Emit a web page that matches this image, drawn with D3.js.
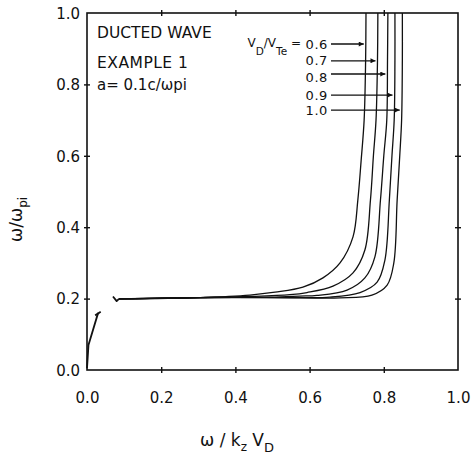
<!DOCTYPE html>
<html>
<head>
<meta charset="utf-8">
<script src="https://cdn.jsdelivr.net/npm/d3@7"></script>
<style>
  html, body { margin: 0; padding: 0; background: #fff; }
  svg { display: block; }
  text { font-family: "DejaVu Sans", "Liberation Sans", sans-serif; fill: #111; }
</style>
</head>
<body>
<svg id="chart" width="473" height="455"></svg>
<script>
// Dispersion curves ω/ωpi versus ω/(kz VD) for several drift ratios VD/VTe
const xTicks = [0.0, 0.2, 0.4, 0.6, 0.8, 1.0];
const yTicks = [0.0, 0.2, 0.4, 0.6, 0.8, 1.0];

const driftRatios = [0.6, 0.7, 0.8, 0.9, 1.0];
const driftLabels = ["0.6", "0.7", "0.8", "0.9", "1.0"];

// [ω/kzVD, ω/ωpi] samples along each branch
const curve06 = [[0.086,0.199],[0.305,0.203],[0.439,0.210],[0.507,0.218],[0.582,0.232],[0.636,0.258],
                 [0.682,0.300],[0.717,0.373],[0.730,0.476],[0.739,0.588],[0.747,0.700],[0.751,0.868],[0.752,1.000]];
const curve07 = [[0.086,0.199],[0.305,0.203],[0.439,0.206],[0.547,0.211],[0.593,0.217],[0.663,0.235],
                 [0.717,0.272],[0.749,0.336],[0.764,0.476],[0.772,0.600],[0.779,0.700],[0.783,0.868],[0.784,1.000]];
const curve08 = [[0.086,0.199],[0.305,0.203],[0.493,0.204],[0.574,0.207],[0.620,0.209],[0.701,0.224],
                 [0.749,0.258],[0.776,0.317],[0.791,0.476],[0.800,0.600],[0.808,0.700],[0.810,0.868],[0.811,1.000]];
const curve09 = [[0.086,0.199],[0.305,0.203],[0.547,0.203],[0.655,0.204],[0.736,0.217],[0.782,0.246],
                 [0.803,0.308],[0.815,0.476],[0.822,0.600],[0.828,0.700],[0.830,0.868],[0.830,1.000]];
const curve10 = [[0.086,0.199],[0.305,0.203],[0.574,0.202],[0.682,0.202],[0.768,0.210],[0.809,0.238],
                 [0.827,0.300],[0.836,0.476],[0.843,0.600],[0.848,0.700],[0.850,0.868],[0.850,1.000]];
const curves = [curve06, curve07, curve08, curve09, curve10];

// small hook where the branches begin, and the low-frequency branch near the origin
const startHook = [[0.070,0.206],[0.080,0.193],[0.086,0.199]];
const lowBranch = [[0.000,0.005],[0.004,0.070],[0.030,0.160]];
const lowBarb = [[0.022,0.153],[0.037,0.163]];

// ω/ωpi level of each label arrow
const arrowLevels = [0.913, 0.866, 0.829, 0.770, 0.728];

const svg = d3.select("#chart");
const x = d3.scaleLinear().domain([0, 1]).range([87, 458]);
const y = d3.scaleLinear().domain([0, 1]).range([370, 13]);
const fmt = d3.format(".1f");

// frame
svg.append("rect")
  .attr("x", x(0)).attr("y", y(1))
  .attr("width", x(1) - x(0)).attr("height", y(0) - y(1))
  .attr("fill", "none").attr("stroke", "#111").attr("stroke-width", 1.6);

function crossTicks(g, horizontal) {
  g.select(".domain").remove();
  g.selectAll(".tick line")
    .attr("stroke", "#111").attr("stroke-width", 1.4)
    .each(function (d) {
      const l = d3.select(this);
      if (d === 0 || d === 1) { l.remove(); return; }
      if (horizontal) l.attr("y1", -3).attr("y2", 3);
      else l.attr("x1", -3).attr("x2", 3);
    });
}

const gx = svg.append("g").attr("transform", `translate(0,${y(0)})`)
  .call(d3.axisBottom(x).tickValues(xTicks).tickFormat(fmt).tickSizeOuter(0));
crossTicks(gx, true);
gx.selectAll(".tick text").attr("y", 33).attr("dy", null)
  .style("font-size", "15px").style("font-family", "DejaVu Sans, sans-serif").attr("fill", "#111");

const gy = svg.append("g").attr("transform", `translate(${x(0)},0)`)
  .call(d3.axisLeft(y).tickValues(yTicks).tickFormat(fmt).tickSizeOuter(0));
crossTicks(gy, false);
gy.selectAll(".tick text").attr("x", -7).attr("dy", "0.35em")
  .style("font-size", "15px").style("font-family", "DejaVu Sans, sans-serif").attr("fill", "#111");

const gt = svg.append("g").attr("transform", `translate(0,${y(1)})`)
  .call(d3.axisTop(x).tickValues(xTicks).tickFormat("").tickSizeOuter(0));
crossTicks(gt, true);
const gr = svg.append("g").attr("transform", `translate(${x(1)},0)`)
  .call(d3.axisRight(y).tickValues(yTicks).tickFormat("").tickSizeOuter(0));
crossTicks(gr, false);

// curves
const line = d3.line().x(d => x(d[0])).y(d => y(d[1])).curve(d3.curveCatmullRom.alpha(0.5));
const straight = d3.line().x(d => x(d[0])).y(d => y(d[1]));

svg.append("g").selectAll("path").data(curves).join("path")
  .attr("d", line)
  .attr("fill", "none").attr("stroke", "#111").attr("stroke-width", 1.3);

[startHook, lowBranch, lowBarb].forEach(p => {
  svg.append("path").attr("d", straight(p))
    .attr("fill", "none").attr("stroke", "#111").attr("stroke-width", 1.8)
    .attr("stroke-linejoin", "round");
});

// x position of a curve at a given ω/ωpi level (upper, near-vertical part)
function xAtLevel(c, level) {
  for (let i = c.length - 1; i > 0; i--) {
    const a = c[i - 1], b = c[i];
    if (level >= a[1] && level <= b[1]) {
      const t = (level - a[1]) / (b[1] - a[1]);
      return a[0] + t * (b[0] - a[0]);
    }
  }
  return c[c.length - 1][0];
}

// labels with arrows pointing at each curve
svg.append("defs").append("marker")
  .attr("id", "head").attr("viewBox", "0 0 10 10")
  .attr("refX", 10).attr("refY", 5)
  .attr("markerWidth", 10).attr("markerHeight", 5)
  .attr("markerUnits", "userSpaceOnUse").attr("orient", "auto")
  .append("path").attr("d", "M0,0 L10,5 L0,10 Z").attr("fill", "#111");

const labelRight = 328;
driftRatios.forEach((r, i) => {
  const ly = y(arrowLevels[i]);
  const tipX = x(xAtLevel(curves[i], arrowLevels[i])) - 2;
  svg.append("line")
    .attr("x1", labelRight + 3).attr("x2", tipX)
    .attr("y1", ly).attr("y2", ly)
    .attr("stroke", "#111").attr("stroke-width", 1.4)
    .attr("marker-end", "url(#head)");
  const ty = (i === 2 ? ly + 8 : ly + 4.5);
  svg.append("text")
    .attr("x", labelRight).attr("y", ty)
    .attr("text-anchor", "end")
    .style("font-size", "13px").style("letter-spacing", "0.6px")
    .text(driftLabels[i]);
});

// "VD/VTe =" prefix in front of the first label
const pre = svg.append("text").attr("x", 301).attr("y", 47)
  .attr("text-anchor", "end").style("font-size", "12px");
pre.append("tspan").text("V");
pre.append("tspan").attr("dy", 8).style("font-size", "10.5px").text("D");
pre.append("tspan").attr("dy", -8).text("/V");
pre.append("tspan").attr("dy", 8).style("font-size", "10.5px").text("Te");
pre.append("tspan").attr("dy", -8).style("font-size", "12px").text(" =");

// annotation block
svg.append("text").attr("x", 97).attr("y", 38).style("font-size", "15.5px").text("DUCTED WAVE");
svg.append("text").attr("x", 97).attr("y", 67.5).style("font-size", "15.5px").style("letter-spacing", "0.5px").text("EXAMPLE 1");
svg.append("text").attr("x", 97).attr("y", 90).style("font-size", "15px").text("a= 0.1c/ωpi");

// axis titles
const xt = svg.append("text").attr("x", 200).attr("y", 446).style("font-size", "17px");
xt.append("tspan").text("ω / k");
xt.append("tspan").attr("dy", 5).style("font-size", "12px").text("z");
xt.append("tspan").attr("dy", -5).text(" V");
xt.append("tspan").attr("dy", 6).style("font-size", "13px").text("D");

const yt = svg.append("text")
  .attr("transform", "translate(22,242) rotate(-90)")
  .style("font-size", "17px");
yt.append("tspan").text("ω/ω");
yt.append("tspan").attr("dy", 5).style("font-size", "12px").text("pi");
</script>
</body>
</html>
